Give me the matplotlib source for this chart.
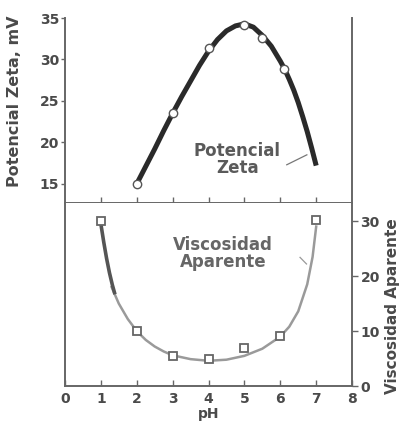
"""
Potencial zeta y viscosidad aparente frente al pH (dos paneles apilados).
"""
import matplotlib
matplotlib.use("Agg")
import matplotlib.pyplot as plt

plt.rcParams['font.family'] = ['DejaVu Sans']

# --- datos ---
zeta_ph = [2, 3, 4, 5, 5.5, 6.1]
zeta_mv = [15.0, 23.5, 31.4, 34.2, 32.6, 28.9]

zeta_curve_ph = [2.0, 2.25, 2.5, 2.75, 3.0, 3.25, 3.5, 3.75, 4.0, 4.25, 4.5,
                 4.75, 5.0, 5.25, 5.5, 5.75, 6.0, 6.125, 6.25, 6.375, 6.5,
                 6.625, 6.75, 6.875, 7.0]
zeta_curve_mv = [15.0, 17.1, 19.2, 21.4, 23.5, 25.5, 27.4, 29.3, 31.0, 32.4, 33.45,
                 34.05, 34.3, 33.9, 32.9, 31.6, 29.8, 28.8, 27.6, 26.3, 24.8,
                 23.1, 21.3, 19.3, 17.2]

visc_ph = [1, 2, 3, 4, 5, 6, 7]
visc = [30.0, 10.0, 5.5, 4.9, 7.0, 9.1, 30.2]

visc_head_ph = [1.0, 1.08, 1.16, 1.24, 1.32, 1.38]
visc_head = [29.5, 26.2, 23.2, 20.6, 18.4, 17.0]

visc_curve_ph = [1.3, 1.5, 1.75, 2.0, 2.25, 2.5, 2.75, 3.0, 3.5, 4.0, 4.5,
                 5.0, 5.5, 6.0, 6.25, 6.5, 6.75, 6.9, 7.0]
visc_curve = [18.0, 15.0, 12.2, 10.0, 8.4, 7.2, 6.3, 5.6, 4.9, 4.6, 4.8,
              5.5, 6.8, 9.0, 10.8, 13.6, 18.5, 23.5, 29.0]

x_ticks = [0, 1, 2, 3, 4, 5, 6, 7, 8]
zeta_ticks = [15, 20, 25, 30, 35]
visc_ticks = [0, 10, 20, 30]

TXT = '#4a4a4a'
AX = '#666666'

fig = plt.figure(figsize=(4.01, 4.29), dpi=100)
ax1 = fig.add_axes([0.162, 0.527, 0.716, 0.431])
ax2 = fig.add_axes([0.162, 0.100, 0.716, 0.427])

for ax in (ax1, ax2):
    ax.set_xlim(0, 8)
    for s in ax.spines.values():
        s.set_color(AX)
        s.set_linewidth(1.4)

# panel superior: potencial zeta
ax1.plot(zeta_curve_ph, zeta_curve_mv, color='#2a2a2a', lw=3.6,
         solid_capstyle='butt', solid_joinstyle='round', zorder=2)
ax1.plot(zeta_ph, zeta_mv, 'o', ms=6, mfc='white', mec='#555555', mew=1.0, zorder=3)
ax1.set_ylim(12.7, 35)
ax1.spines['top'].set_visible(False)
ax1.set_yticks(zeta_ticks)
ax1.set_xticks(x_ticks[1:-1])
ax1.tick_params(axis='x', direction='in', length=4, width=1, color=AX, labelbottom=False)
ax1.tick_params(axis='y', direction='out', length=3, width=1, color=AX,
                labelsize=10, labelcolor=TXT, pad=1)
for t in ax1.get_yticklabels():
    t.set_fontweight('bold')
ax1.set_ylabel('Potencial Zeta, mV', fontsize=11.5, fontweight='bold', color=TXT)
ax1.yaxis.set_label_coords(-0.15, 0.55)
ax1.text(4.8, 17.9, 'Potencial\nZeta', ha='center', va='center', fontsize=12,
         fontweight='bold', color='#5a5a5a', linespacing=0.95)
ax1.plot([6.18, 6.74], [17.3, 18.5], color='#777777', lw=0.9)

# panel inferior: viscosidad aparente
ax2.plot(visc_curve_ph, visc_curve, color='#9a9a9a', lw=1.8, zorder=2)
ax2.plot(visc_head_ph, visc_head, color='#555555', lw=2.6, zorder=2)
ax2.plot(visc_ph, visc, 's', ms=6, mfc='white', mec='#666666', mew=1.3, zorder=3)
ax2.set_ylim(0, 33.3)
ax2.spines['top'].set_visible(False)
ax2.set_xticks(x_ticks)
ax2.set_xticklabels([str(v) for v in x_ticks], fontweight='bold')
ax2.tick_params(axis='x', direction='in', length=4, width=1, color=AX,
                labelsize=10, labelcolor=TXT, pad=4)
ax2.yaxis.tick_right()
ax2.yaxis.set_label_position('right')
ax2.set_yticks(visc_ticks)
ax2.set_yticklabels([str(v) for v in visc_ticks], fontweight='bold')
ax2.tick_params(axis='y', direction='out', length=4, width=1, color=AX,
                labelsize=10, labelcolor=TXT, pad=2)
ax2.set_xlabel('pH', fontsize=10, fontweight='bold', color=TXT, labelpad=1)
ax2.set_ylabel('Viscosidad Aparente', fontsize=11, fontweight='bold',
               color=TXT, rotation=90)
ax2.yaxis.set_label_coords(1.115, 0.437)
ax2.text(4.4, 24.1, 'Viscosidad\nAparente', ha='center', va='center', fontsize=12,
         fontweight='bold', color='#666666', linespacing=0.95)
ax2.plot([6.55, 6.73], [23.4, 22.2], color='#999999', lw=0.9)

plt.savefig('out.png', dpi=100)
plt.close()
